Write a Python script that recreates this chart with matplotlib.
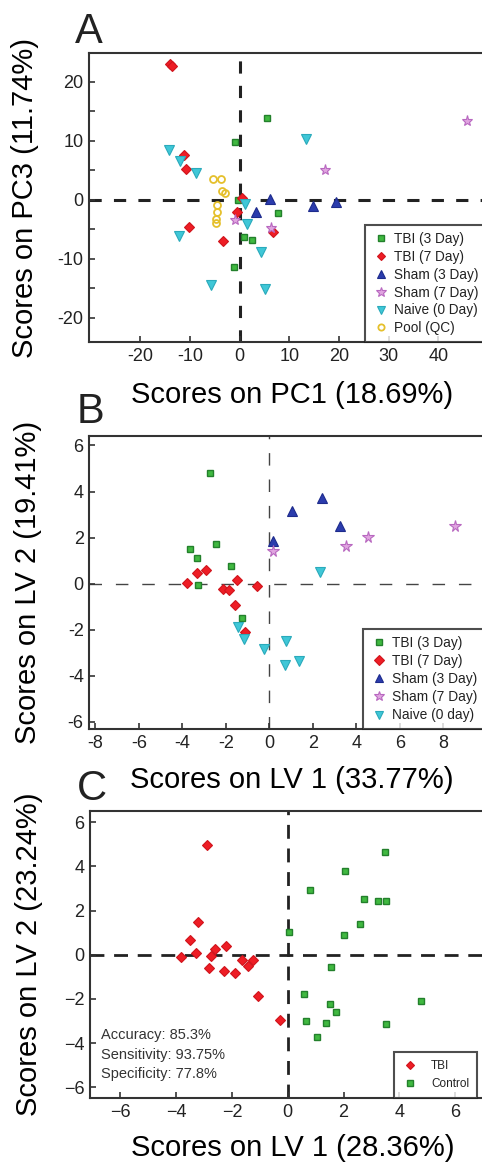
import matplotlib
matplotlib.use('Agg')
import matplotlib.pyplot as plt
from matplotlib import font_manager
from matplotlib.ticker import FuncFormatter, MultipleLocator, FixedLocator

# ---- Panel A: PCA scores, PC1 vs PC3 ----
a_tbi3_x = [5.6, -0.9, -0.4, 7.8, 0.9, 2.5, -1.1]
a_tbi3_y = [13.9, 9.8, 0.0, -2.3, -6.3, -6.8, -11.4]
a_tbi7_x = [-13.9, -13.5, -11.2, -10.7, 0.4, -0.6, -10.2, -3.3, 6.8]
a_tbi7_y = [23.1, 22.7, 7.6, 5.2, 0.3, -2.1, -4.6, -6.9, -5.5]
a_sham3_x = [6.1, 3.3, 14.8, 19.5]
a_sham3_y = [0.1, -2.0, -1.0, -0.4]
a_sham7_x = [45.8, 17.2, -0.9, 6.4]
a_sham7_y = [13.3, 5.0, -3.4, -4.7]
a_naive_x = [-14.2, -12.0, -8.7, 13.3, 1.1, 1.4, -12.2, 4.4, -5.8, 5.1]
a_naive_y = [8.5, 6.6, 4.5, 10.4, -0.7, -4.1, -6.1, -8.9, -14.5, -15.1]
a_pool_x = [-5.3, -3.8, -3.6, -2.9, -4.6, -4.6, -4.8, -4.8]
a_pool_y = [3.5, 3.5, 1.5, 1.1, -0.9, -2.0, -3.3, -4.0]
a_labels = ['TBI (3 Day)', 'TBI (7 Day)', 'Sham (3 Day)', 'Sham (7 Day)',
            'Naive (0 Day)', 'Pool (QC)']
a_xticks = [-20, -10, 0, 10, 20, 30, 40]
a_yticks = [-20, -10, 0, 10, 20]

# ---- Panel B: PLS-DA scores, LV1 vs LV2 ----
b_tbi3_x = [-2.73, -3.65, -3.34, -2.45, -1.77, -3.28, -1.26]
b_tbi3_y = [4.8, 1.49, 1.11, 1.72, 0.78, -0.06, -1.48]
b_tbi7_x = [-3.8, -3.32, -2.92, -2.14, -1.87, -1.47, -0.58, -1.59, -1.13]
b_tbi7_y = [0.01, 0.48, 0.59, -0.23, -0.26, 0.17, -0.09, -0.91, -2.11]
b_sham3_x = [0.18, 1.03, 2.41, 3.25]
b_sham3_y = [1.85, 3.15, 3.71, 2.5]
b_sham7_x = [0.16, 3.53, 4.51, 8.54]
b_sham7_y = [1.41, 1.65, 2.02, 2.52]
b_naive_x = [2.33, -1.43, -1.16, -0.24, 0.75, 0.72, 1.35]
b_naive_y = [0.5, -1.88, -2.39, -2.85, -2.49, -3.54, -3.36]
b_labels = ['TBI (3 Day)', 'TBI (7 Day)', 'Sham (3 Day)', 'Sham (7 Day)',
            'Naive (0 day)']
b_xticks = [-8, -6, -4, -2, 0, 2, 4, 6, 8]
b_yticks = [-6, -4, -2, 0, 2, 4, 6]

# ---- Panel C: PLS-DA, TBI vs control ----
c_tbi_x = [-2.9, -3.23, -3.5, -3.29, -3.82, -2.76, -2.62, -2.21, -2.82, -2.28,
           -1.91, -1.63, -1.25, -1.41, -1.06, -0.28]
c_tbi_y = [4.99, 1.48, 0.68, 0.07, -0.11, -0.08, 0.24, 0.41, -0.6, -0.74,
           -0.83, -0.23, -0.23, -0.52, -1.86, -2.94]
c_ctrl_x = [0.05, 0.78, 2.05, 3.48, 2.72, 3.23, 3.53, 2.6, 2.03, 1.55,
            0.57, 1.52, 1.72, 0.64, 1.36, 1.06, 3.52, 4.78]
c_ctrl_y = [1.05, 2.91, 3.78, 4.64, 2.53, 2.44, 2.43, 1.4, 0.89, -0.56,
            -1.8, -2.25, -2.61, -2.99, -3.08, -3.73, -3.15, -2.08]
c_labels = ['TBI', 'Control']
c_stats = ['Accuracy: 85.3%', 'Sensitivity: 93.75%', 'Specificity: 77.8%']
c_xticks = [-6, -4, -2, 0, 2, 4, 6]
c_yticks = [-6, -4, -2, 0, 2, 4, 6]

# marker styles per group
green = dict(marker='s', mfc='#40b940', mec='#23802c')
red = dict(marker='D', mfc='#ee1d25', mec='#d0141c')
blue = dict(marker='^', mfc='#2b3cad', mec='#1d2b8c')
pink = dict(marker='*', mfc='#e0a4e0', mec='#b868c0')
cyan = dict(marker='v', mfc='#3fc7d7', mec='#2aaabb')
yellow = dict(marker='o', mfc='none', mec='#e5c02c')

names = {f.name for f in font_manager.fontManager.ttflist}
narrow = 'Liberation Sans Narrow' in names
tick_font = 'Liberation Sans Narrow' if narrow else 'Liberation Sans'
tick_size = 15 if narrow else 13

plt.rcParams['font.family'] = 'Liberation Sans'
plt.rcParams['text.color'] = '#222222'

fig = plt.figure(figsize=(4.82, 11.63), dpi=100)

W, H = 482.0, 1163.0


def make_axes(left, top, right, bottom):
    return fig.add_axes([left / W, 1 - bottom / H, (right - left) / W, (bottom - top) / H])


def style(ax, xt, yt, minus):
    for s in ax.spines.values():
        s.set_linewidth(1.5)
        s.set_color('#333333')
    ax.xaxis.set_major_locator(FixedLocator(xt))
    ax.yaxis.set_major_locator(FixedLocator(yt))
    ax.tick_params(direction='in', length=4, width=1.2, color='#333333',
                   labelsize=tick_size, pad=4, labelcolor='#222222')
    ax.tick_params(which='minor', direction='in', length=4, width=1.2, color='#333333')
    fmt = FuncFormatter(lambda v, p: ('%g' % v).replace('-', minus))
    ax.xaxis.set_major_formatter(fmt)
    ax.yaxis.set_major_formatter(fmt)
    for lab in ax.get_xticklabels() + ax.get_yticklabels():
        lab.set_fontfamily(tick_font)


# ---------------- Panel A ----------------
axA = make_axes(89, 53, 487, 342)
axA.axhline(0, color='#222222', lw=2.2, dashes=(4, 4), zorder=1)
axA.axvline(0, color='#222222', lw=2.2, dashes=(4, 4), zorder=1)
axA.plot(a_tbi3_x, a_tbi3_y, ls='none', ms=4.3, mew=1.0, label=a_labels[0], **green)
axA.plot(a_tbi7_x, a_tbi7_y, ls='none', ms=5.0, mew=0.8, label=a_labels[1], **red)
axA.plot(a_sham3_x, a_sham3_y, ls='none', ms=6.5, mew=0.8, label=a_labels[2], **blue)
axA.plot(a_sham7_x, a_sham7_y, ls='none', ms=8.0, mew=0.8, label=a_labels[3], **pink)
axA.plot(a_naive_x, a_naive_y, ls='none', ms=6.5, mew=0.8, label=a_labels[4], **cyan)
axA.plot(a_pool_x, a_pool_y, ls='none', ms=5.0, mew=1.3, label=a_labels[5], **yellow)
axA.set_xlim(-30.3, 49.8)
axA.set_ylim(-24.1, 24.9)
style(axA, a_xticks, a_yticks, '-')
axA.yaxis.set_minor_locator(MultipleLocator(5))
axA.set_xlabel('Scores on PC1 (18.69%)', fontsize=21)
axA.set_ylabel('Scores on PC3 (11.74%)', fontsize=21)
axA.xaxis.set_label_coords(0.51, -0.135)
axA.yaxis.set_label_coords(-0.125, 0.5)
legA = axA.legend(loc='lower left', bbox_to_anchor=(0.6935, 0.0), borderaxespad=0,
                  fontsize=9.8, frameon=True, fancybox=False, edgecolor='#222222',
                  borderpad=0.5, labelspacing=0.28, handlelength=1.3, handletextpad=0.35,
                  markerscale=0.9)
legA.get_frame().set_linewidth(1.5)

# ---------------- Panel B ----------------
axB = make_axes(89.3, 436, 487, 729.3)
axB.axhline(0, color='#444444', lw=1.0, dashes=(9, 10), zorder=1)
axB.axvline(0, color='#444444', lw=1.0, dashes=(9, 10), zorder=1)
axB.plot(b_tbi3_x, b_tbi3_y, ls='none', ms=5.0, mew=1.0, label=b_labels[0], **green)
axB.plot(b_tbi7_x, b_tbi7_y, ls='none', ms=5.5, mew=0.8, label=b_labels[1], **red)
axB.plot(b_sham3_x, b_sham3_y, ls='none', ms=7.0, mew=0.8, label=b_labels[2], **blue)
axB.plot(b_sham7_x, b_sham7_y, ls='none', ms=8.5, mew=0.8, label=b_labels[3], **pink)
axB.plot(b_naive_x, b_naive_y, ls='none', ms=7.0, mew=0.8, label=b_labels[4], **cyan)
axB.set_xlim(-8.28, 10.0)
axB.set_ylim(-6.32, 6.41)
style(axB, b_xticks, b_yticks, '-')
axB.set_xlabel('Scores on LV 1 (33.77%)', fontsize=21)
axB.set_ylabel('Scores on LV 2 (19.41%)', fontsize=21)
axB.xaxis.set_label_coords(0.51, -0.125)
axB.yaxis.set_label_coords(-0.118, 0.5)
legB = axB.legend(loc='lower left', bbox_to_anchor=(0.688, 0.0), borderaxespad=0,
                  fontsize=9.9, frameon=True, fancybox=False, edgecolor='#222222',
                  borderpad=0.5, labelspacing=0.3, handlelength=1.3, handletextpad=0.35,
                  markerscale=0.85)
legB.get_frame().set_linewidth(1.5)

# ---------------- Panel C ----------------
axC = make_axes(90, 811, 487, 1098)
axC.axhline(0, color='#222222', lw=2.0, dashes=(5, 3.5), zorder=1)
axC.axvline(0, color='#222222', lw=2.0, dashes=(5, 3.5), zorder=1)
axC.plot(c_tbi_x, c_tbi_y, ls='none', ms=5.3, mew=0.8, label=c_labels[0], **red)
axC.plot(c_ctrl_x, c_ctrl_y, ls='none', ms=5.0, mew=1.0, label=c_labels[1], **green)
axC.set_xlim(-7.09, 7.14)
axC.set_ylim(-6.49, 6.51)
style(axC, c_xticks, c_yticks, '\u2212')
axC.set_xlabel('Scores on LV 1 (28.36%)', fontsize=21)
axC.set_ylabel('Scores on LV 2 (23.24%)', fontsize=21)
axC.xaxis.set_label_coords(0.51, -0.125)
axC.yaxis.set_label_coords(-0.118, 0.5)
for i, s in enumerate(c_stats):
    axC.text(0.027, 0.2195 - i * 0.068, s, transform=axC.transAxes, fontsize=10.5,
             va='center', ha='left', color='#333333', family=tick_font)
legC = axC.legend(loc='lower left', bbox_to_anchor=(0.7665, 0.0), borderaxespad=0,
                  fontsize=8.5, frameon=True, fancybox=False, edgecolor='#222222',
                  borderpad=0.7, labelspacing=0.45, handlelength=1.3, handletextpad=1.1,
                  markerscale=0.85)
legC.get_frame().set_linewidth(1.5)

# panel letters
fig.text(75 / W, 1 - 43 / H, 'A', fontsize=30, va='baseline', ha='left')
fig.text(77 / W, 1 - 423 / H, 'B', fontsize=30, va='baseline', ha='left')
fig.text(77 / W, 1 - 800 / H, 'C', fontsize=30, va='baseline', ha='left')

fig.savefig('out.png', dpi=100)
